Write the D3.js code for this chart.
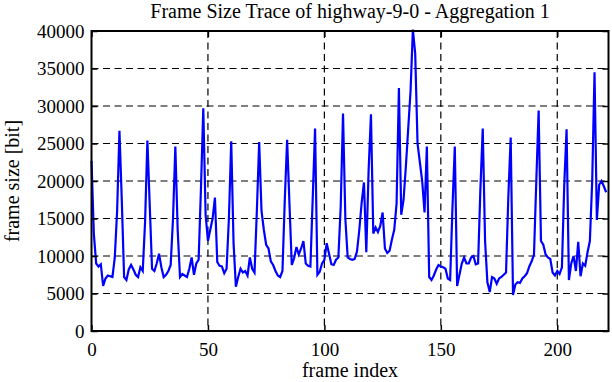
<html>
<head>
<title>Frame Size Trace</title>
<style>
body { margin: 0; background: #fff; }
text { font-family: "Liberation Serif", "DejaVu Serif", serif; }
</style>
</head>
<body>
<svg width="612" height="382"></svg>
<script src="https://d3js.org/d3.v7.min.js"></script>
<script>
// frame sizes in bit, one per frame index (0..221)
var frameSize = [
    22700, 13000, 9000, 8600, 8900, 6000, 7000, 7400, 7300, 7200, 9800, 16000,
    26700, 17500, 7200, 6800, 8200, 8800, 8200, 7500, 7200, 8500, 8000, 14500,
    25400, 16800, 8300, 8000, 9000, 10300, 8500, 7200, 7500, 8000, 8800, 15000,
    24600, 13500, 7200, 7600, 7400, 7200, 8300, 9800, 7500, 9000, 9500, 19000,
    29700, 15500, 12000, 13500, 15000, 17800, 9200, 8700, 8600, 7700, 8300, 15000,
    25300, 11700, 5900, 7200, 8300, 7800, 8000, 7400, 9800, 8300, 7800, 16000,
    25200, 16000, 13500, 11500, 11000, 9300, 8800, 8000, 7400, 7200, 8000, 17500,
    25500, 17000, 8800, 9700, 11200, 10200, 11000, 12000, 9000, 8700, 8600, 17800,
    27000, 7500, 7900, 9000, 9500, 11700, 10300, 8900, 8800, 9500, 9800, 16500,
    29000, 15000, 9800, 9600, 9500, 9600, 10600, 13500, 17100, 19800, 10500, 21500,
    28900, 13000, 13800, 13200, 14000, 15800, 11000, 10400, 10700, 12200, 13500, 17000,
    32400, 15500, 17500, 22000, 27000, 32000, 40200, 37000, 25000, 22500, 20000, 15800,
    24600, 7200, 6800, 7400, 8200, 8800, 8600, 8500, 8300, 7000, 6800, 16500,
    24600, 6000, 7500, 9000, 9800, 9000, 9000, 9800, 10000, 8900, 9000, 19000,
    27000, 12000, 6500, 5200, 7200, 7000, 6300, 7000, 7200, 7500, 7800, 18000,
    25800, 4800, 6200, 6500, 6400, 7000, 7300, 7700, 8600, 9300, 10200, 20000,
    29400, 12000, 11500, 10200, 9800, 9600, 7800, 7400, 8000, 7600, 8500, 19500,
    26900, 6800, 9000, 10000, 8000, 11900, 7300, 9000, 8700, 10500, 12000, 20000,
    34500, 14800, 19500, 20000, 19300, 18500
];
var xTicks = [0, 50, 100, 150, 200];
var yTicks = [0, 5000, 10000, 15000, 20000, 25000, 30000, 35000, 40000];
var xMax = 222;
var yMax = 40000;

var svg = d3.select('svg');
var margin = {top: 31, right: 3.5, bottom: 51, left: 91.5};
var width = 612 - margin.left - margin.right;
var height = 382 - margin.top - margin.bottom;

var x = d3.scaleLinear().domain([0, xMax]).range([0, width]);
var y = d3.scaleLinear().domain([0, yMax]).range([height, 0]);

var g = svg.append('g').attr('transform', 'translate(' + margin.left + ',' + margin.top + ')');

// dashed grid
g.append('g').selectAll('line').data(yTicks.slice(1, -1)).enter().append('line')
    .attr('x1', 0).attr('x2', width)
    .attr('y1', function(d) { return y(d); }).attr('y2', function(d) { return y(d); })
    .style('stroke', '#000').style('stroke-width', 1.2).style('stroke-dasharray', '7,4.5');
g.append('g').selectAll('line').data(xTicks.slice(1)).enter().append('line')
    .attr('y1', 0).attr('y2', height)
    .attr('x1', function(d) { return x(d); }).attr('x2', function(d) { return x(d); })
    .style('stroke', '#000').style('stroke-width', 1.2).style('stroke-dasharray', '7,4.5');

// the trace
var line = d3.line()
    .x(function(d, i) { return x(i); })
    .y(function(d) { return y(d); });

g.append('path').datum(frameSize)
    .attr('d', line)
    .style('fill', 'none')
    .style('stroke', '#0000ff')
    .style('stroke-width', 2.2);

// axes with inward ticks
var axisStyle = function(sel) {
    sel.select('.domain').remove();
    sel.selectAll('.tick line').style('stroke', '#000').style('stroke-width', 1.5);
    sel.selectAll('.tick text').style('font-family', '"Liberation Serif", serif')
        .style('font-size', '19px').style('fill', '#000');
};

g.append('g').attr('transform', 'translate(0,' + height + ')')
    .call(d3.axisBottom(x).tickValues(xTicks).tickSize(-6).tickPadding(12).tickFormat(d3.format('d')))
    .call(axisStyle);
g.append('g')
    .call(d3.axisTop(x).tickValues(xTicks).tickSize(-6).tickFormat(''))
    .call(axisStyle);
g.append('g')
    .call(d3.axisLeft(y).tickValues(yTicks).tickSize(-6).tickPadding(7).tickFormat(d3.format('d')))
    .call(axisStyle);
g.append('g').attr('transform', 'translate(' + width + ',0)')
    .call(d3.axisRight(y).tickValues(yTicks).tickSize(-6).tickFormat(''))
    .call(axisStyle);

// border
g.append('rect').attr('width', width).attr('height', height)
    .style('fill', 'none').style('stroke', '#000').style('stroke-width', 2);

// labels
svg.append('text').attr('x', margin.left + width / 2).attr('y', 18)
    .attr('text-anchor', 'middle').style('font-size', '20px')
    .text('Frame Size Trace of highway-9-0 - Aggregation 1');
svg.append('text').attr('x', margin.left + width / 2).attr('y', 377)
    .attr('text-anchor', 'middle').style('font-size', '20px')
    .text('frame index');
svg.append('text').attr('transform', 'translate(19,' + (margin.top + height / 2) + ') rotate(-90)')
    .attr('text-anchor', 'middle').style('font-size', '20px')
    .text('frame size [bit]');
</script>
</body>
</html>
